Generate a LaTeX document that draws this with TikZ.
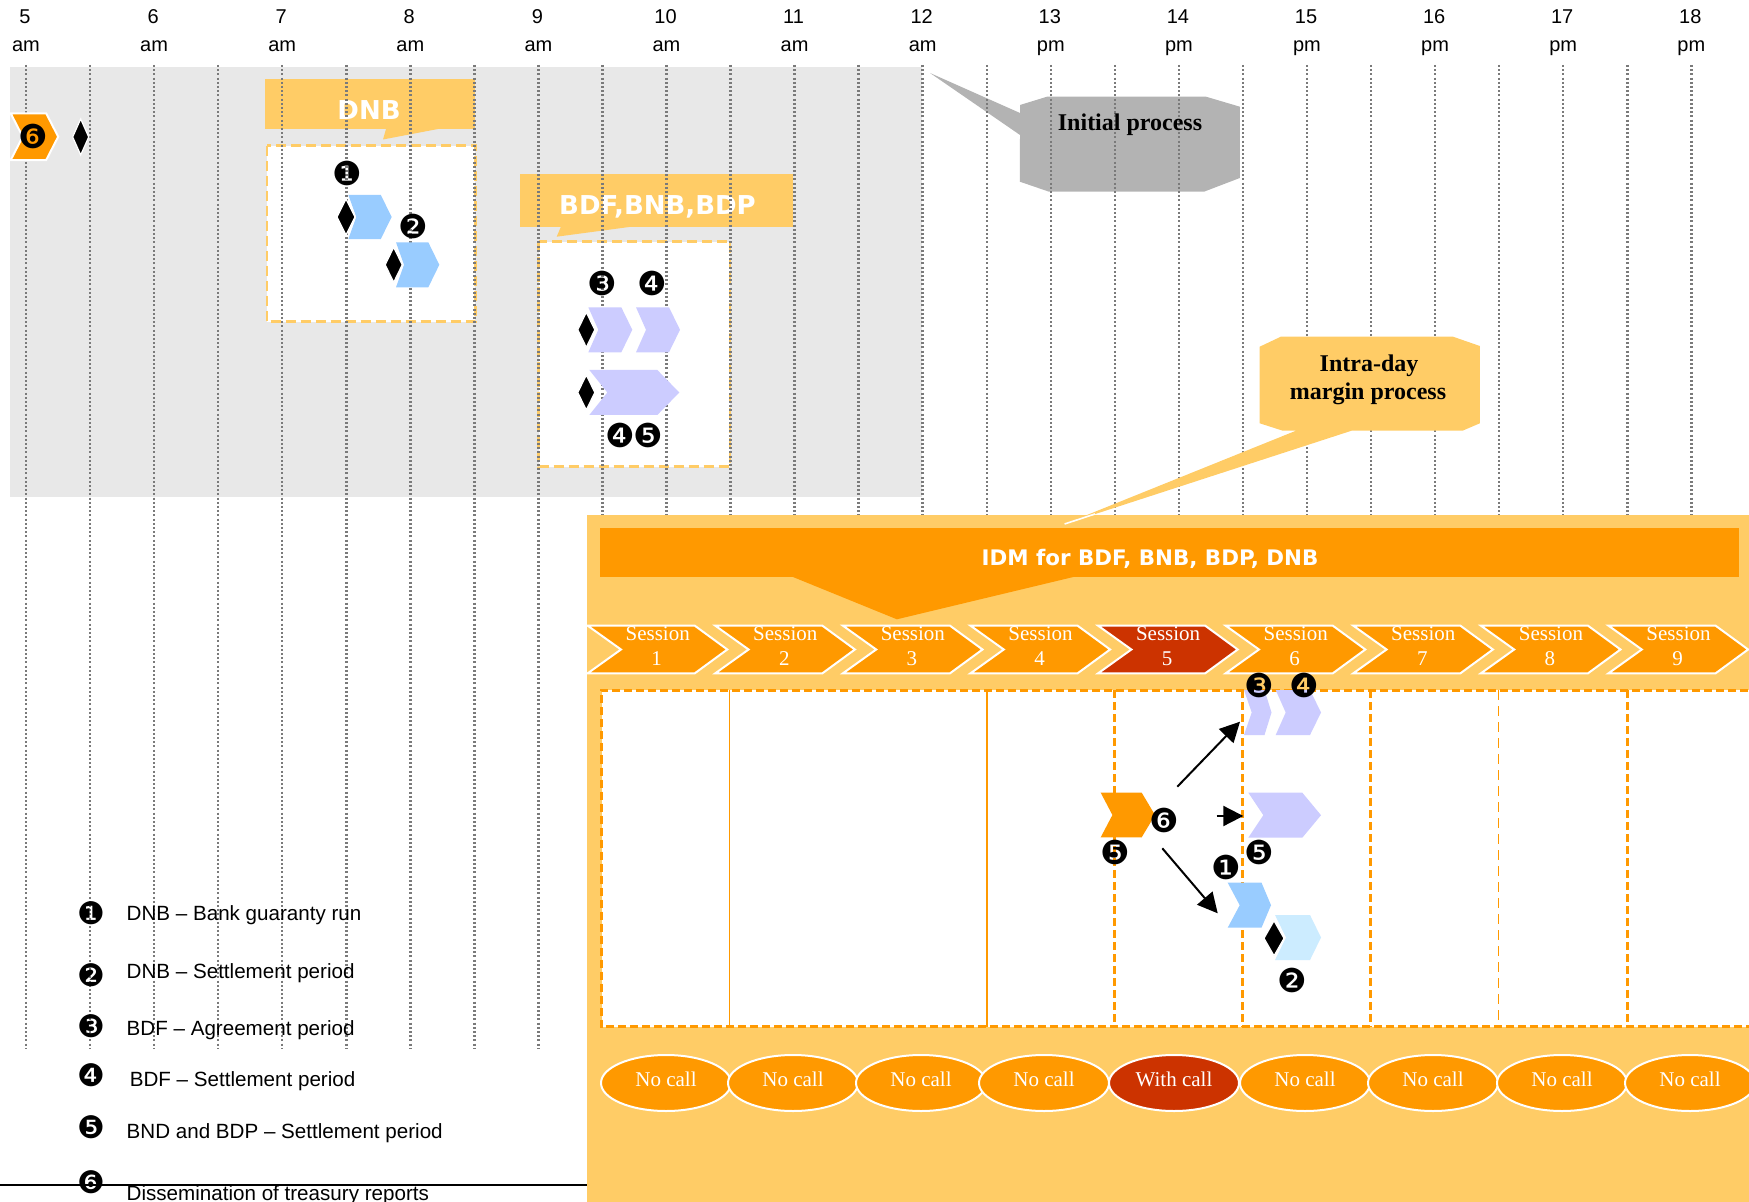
\documentclass[tikz,border=0pt]{standalone}
\usepackage{fontspec}
\setmainfont{Liberation Serif}
\newfontfamily\lsans{Liberation Sans}
\newfontfamily\dvs{DejaVu Sans}
\usetikzlibrary{arrows.meta,shapes.geometric}
\definecolor{gbg}{HTML}{E8E8E8}
\definecolor{gdot}{HTML}{7A7A7A}
\definecolor{ylw}{HTML}{FFCC66}
\definecolor{orng}{HTML}{FF9900}
\definecolor{dred}{HTML}{CC3300}
\definecolor{lav}{HTML}{CCCCFF}
\definecolor{lblue}{HTML}{99CCFF}
\definecolor{vlblue}{HTML}{CCECFF}
\definecolor{cgray}{HTML}{B3B3B3}
% #1 left x, #2 centre y, #3 length, #4 height, #5 tip depth, #6 notch depth, #7 style
\newcommand\mychev[7]{\path[#7] (#1,{#2-#4/2}) -- ({#1+#3-#5},{#2-#4/2}) -- ({#1+#3},#2) -- ({#1+#3-#5},{#2+#4/2}) -- (#1,{#2+#4/2}) -- ({#1+#6},#2) -- cycle;}
% #1 cx, #2 cy, #3 w, #4 h
\newcommand\mydia[4]{\path[dia] (#1,{#2-#4/2}) -- ({#1+#3/2},#2) -- (#1,{#2+#4/2}) -- ({#1-#3/2},#2) -- cycle;}
\begin{document}
\begin{tikzpicture}[x=0.5pt,y=-0.5pt,
  hour/.style={font=\lsans\fontsize{10}{12}\selectfont, anchor=base, inner sep=0pt},
  num/.style={font=\dvs\fontsize{16.5}{16}\selectfont, inner sep=0pt},
  lnum/.style={font=\dvs\fontsize{15.5}{15}\selectfont, inner sep=0pt},
  legtxt/.style={font=\lsans\fontsize{10.3}{12}\selectfont, anchor=base west, inner sep=0pt},
  calltxt/.style={font=\bfseries\fontsize{12}{14}\selectfont, anchor=base, inner sep=0pt},
  bantxt/.style={font=\dvs\bfseries\fontsize{13}{15}\selectfont, text=white, anchor=base, inner sep=0pt},
  sesstxt/.style={font=\fontsize{10.5}{12}\selectfont, text=white, anchor=base, inner sep=0pt},
  callell/.style={ellipse, draw=white, line width=1pt, minimum width=65pt, minimum height=28pt, inner sep=0pt, text=white, text depth=4pt, font=\fontsize{10.5}{12}\selectfont},
  gridline/.style={gdot, line width=1.25pt, dash pattern=on 1pt off 1.1pt},
  dia/.style={fill=black, draw=white, line width=0.6pt},
  boxdash/.style={ylw, line width=1.2pt, dash pattern=on 5pt off 2.5pt},
  pdash/.style={orng, line width=1.5pt, dash pattern=on 4pt off 2pt},
  pthin/.style={orng, line width=0.8pt},
  pthindash/.style={orng, line width=0.8pt, dash pattern=on 5pt off 3pt},
  arr/.style={line width=1pt, -{Triangle[length=10pt,width=10pt]}}
]
\useasboundingbox (0,0) rectangle (1749,1202);
\clip (0,0) rectangle (1749,1202);

% ---------- hour labels ----------
\foreach \h/\n/\s [count=\i from 0] in {5/5/am,6/6/am,7/7/am,8/8/am,9/9/am,10/10/am,11/11/am,12/12/am,13/13/pm,14/14/pm,15/15/pm,16/16/pm,17/17/pm,18/18/pm}{
  \node[hour] (hn\h) at ({25+128.1*\i},24) {\n};
  \node[hour] (hs\h) at ({26+128.1*\i},51.7) {\s};
}

% ---------- initial process area ----------
\fill[gbg] (10,67) rectangle (922,497);

% DNB banner and box
\fill[ylw] (265,79.3) rectangle (474.5,129.3);
\fill[ylw] (386,129) -- (383,139.5) -- (438,129) -- cycle;
\node[bantxt] (dnb) at (369,120) {DNB};
\fill[white] (266.7,145.7) rectangle (475.3,321.7);
\draw[boxdash] (266.7,145.7) rectangle (475.3,321.7);

% BDF banner and box
\fill[ylw] (520,174.3) rectangle (793,226.7);
\fill[ylw] (561,226.5) -- (556.7,236.7) -- (633,226.5) -- cycle;
\node[bantxt] (bdf) at (657.5,215) {BDF,BNB,BDP};
\fill[white] (538.5,241.7) rectangle (730,466.7);
\draw[boxdash] (538.5,241.7) rectangle (730,466.7);

% initial process callout
\fill[cgray] (930,73) -- (1020,113) -- (1020,105) -- (1047,96.7) -- (1206,96.7) -- (1239.8,106.7) -- (1239.8,178) -- (1204,191.7) -- (1049,191.7) -- (1019.8,181.7) -- (1020,135) -- cycle;

% ---------- dotted grid ----------
\foreach \k in {0,...,26}{
  \draw[gridline] ({26+64.05*\k},65) -- ({26+64.05*\k},1048);
}

\node[calltxt] (initp) at (1130,131) {Initial process};

% ---------- top-area symbols ----------
\mychev{10.7}{136.7}{47.5}{46.7}{12}{12}{fill=orng,draw=white,line width=1pt}
\node[num] (t6) at (33.3,136.7) {❻};
\mydia{80.7}{137}{16}{36}

\mychev{348.3}{217}{43.4}{44.3}{11}{8}{fill=lblue}
\mydia{346}{217}{18}{36}
\node[num] (d1) at (347.3,173.3) {❶};
\mychev{396}{264.8}{43.3}{45}{11}{8}{fill=lblue}
\mydia{393.7}{264.8}{17}{35}
\node[num] (d2) at (413.3,226.7) {❷};

\mychev{588.3}{329.8}{44}{45}{11}{10}{fill=lav}
\mychev{636}{329.8}{44}{45}{11}{10}{fill=lav}
\mychev{589.3}{392.5}{90}{45}{22}{18}{fill=lav}
\mydia{586.3}{329.8}{17}{35}
\mydia{586.3}{392.5}{17}{35}
\node[num] (b3) at (602.7,283.3) {❸};
\node[num] (b4) at (652.3,283.3) {❹};
\node[num] (b4b) at (620,435) {❹};
\node[num] (b5) at (648.7,435) {❺};

% ---------- intra-day callout ----------
\fill[ylw] (1259.7,346.7) -- (1280.8,336.7) -- (1453,336.7) -- (1479.8,346) -- (1479.8,423.3) -- (1462.6,430.7) -- (1351.6,430.7) -- (1064.6,524) -- (1296,430.7) -- (1282.7,430.7) -- (1259.7,423.3) -- cycle;
\node[calltxt] (intra1) at (1369,371.7) {Intra-day};
\node[calltxt] (intra2) at (1368,400) {margin process};

% ---------- IDM panel ----------
\fill[ylw] (587,515) rectangle (1760,1210);
\draw[white, line width=0.8pt] (1064.6,524) -- (1095,514);
\fill[orng] (600,527.7) rectangle (1739.4,576.7);
\fill[orng] (790.5,576) -- (896.9,619.3) -- (1077.5,576) -- cycle;
\node[bantxt, font=\dvs\bfseries\fontsize{10.7}{12}\selectfont] (idm) at (1150,566) {IDM for BDF, BNB, BDP, DNB};

\foreach \k/\c in {1/orng,2/orng,3/orng,4/orng,5/dred,6/orng,7/orng,8/orng,9/orng}{
  \pgfmathsetmacro\L{587.7+127.6*(\k-1)}
  \mychev{\L}{649.5}{139.6}{47.6}{32.5}{33.3}{fill=\c,draw=white,line width=1pt}
  \node[sesstxt] (ses\k) at ({\L+70},640) {Session};
  \node[sesstxt] (sesn\k) at ({\L+69},665) {\k};
}

% session area
\fill[white] (601.5,690) rectangle (1760,1026.7);
\draw[pdash] (1760,690) -- (601.5,690) -- (601.5,1026.7) -- (1760,1026.7);
\draw[pthin] (729.5,690) -- (729.5,1026.7);
\draw[pthin] (987,690) -- (987,1026.7);
\draw[pdash] (1114.3,690) -- (1114.3,1026.7);
\draw[pdash] (1242.5,690) -- (1242.5,1026.7);
\draw[pdash] (1370,690) -- (1370,1026.7);
\draw[pthindash] (1498.3,690) -- (1498.3,1026.7);
\draw[pdash] (1627.3,690) -- (1627.3,1026.7);

% chart symbols
\mychev{1100.7}{815}{54.3}{44.6}{13.3}{11.7}{fill=orng}
\node[num] (c6) at (1164.3,820.7) {❻};
\node[num] (c5a) at (1115,852.7) {❺};

\mychev{1244}{712.5}{27.5}{45}{7}{7.7}{fill=lav}
\mychev{1275.7}{712.5}{45.3}{45}{11}{10}{fill=lav}
\node[num] (c3) at (1259.3,685) {❸};
\node[num] (c4) at (1304,685) {❹};
\mychev{1248.3}{815.2}{72.7}{45}{18.7}{15}{fill=lav}
\node[num] (c5b) at (1259.3,852.3) {❺};
\node[num] (c1) at (1226.7,867.3) {❶};
\mychev{1227.7}{905.2}{43.3}{45}{9.5}{12}{fill=lblue}
\mychev{1275}{937.5}{46}{45}{11}{11}{fill=vlblue}
\mydia{1274}{938.3}{20}{35}
\node[num] (c2) at (1292.3,980) {❷};

\coordinate (a1s) at (1177.3,786.7);
\coordinate (a1e) at (1240,721.7);
\coordinate (a2s) at (1216.7,816);
\coordinate (a2e) at (1243.3,816);
\coordinate (a3s) at (1162.3,848.3);
\coordinate (a3e) at (1217.7,913.3);
\draw[arr] (a1s) -- (a1e);
\draw[arr] (a2s) -- (a2e);
\draw[arr] (a3s) -- (a3e);

% call ellipses
\foreach \x/\t/\c [count=\i] in {666/No call/orng,793/No call/orng,921/No call/orng,1044/No call/orng,1174/With call/dred,1305/No call/orng,1433/No call/orng,1562/No call/orng,1690/No call/orng}{
  \node[callell, fill=\c] (call\i) at (\x,1083) {\t};
}

% ---------- legend ----------
\draw[black, line width=1pt] (0,1185) -- (587,1185);
\node[lnum] (l1) at (91.8,913.3) {❶};
\node[legtxt] (lt1) at (126.3,920.7) {DNB – Bank guaranty run};
\node[lnum] (l2) at (91.8,975) {❷};
\node[legtxt] (lt2) at (126.3,978.3) {DNB – Settlement period};
\node[lnum] (l3) at (91.8,1026.7) {❸};
\node[legtxt] (lt3) at (126.3,1035) {BDF – Agreement period};
\node[lnum] (l4) at (91.8,1075) {❹};
\node[legtxt] (lt4) at (129.4,1086.7) {BDF – Settlement period};
\node[lnum] (l5) at (91.8,1126.7) {❺};
\node[legtxt] (lt5) at (126.3,1138) {BND and BDP – Settlement period};
\node[lnum] (l6) at (91.8,1181.7) {❻};
\node[legtxt] (lt6) at (126.3,1200.5) {Dissemination of treasury reports};
\end{tikzpicture}
\end{document}
